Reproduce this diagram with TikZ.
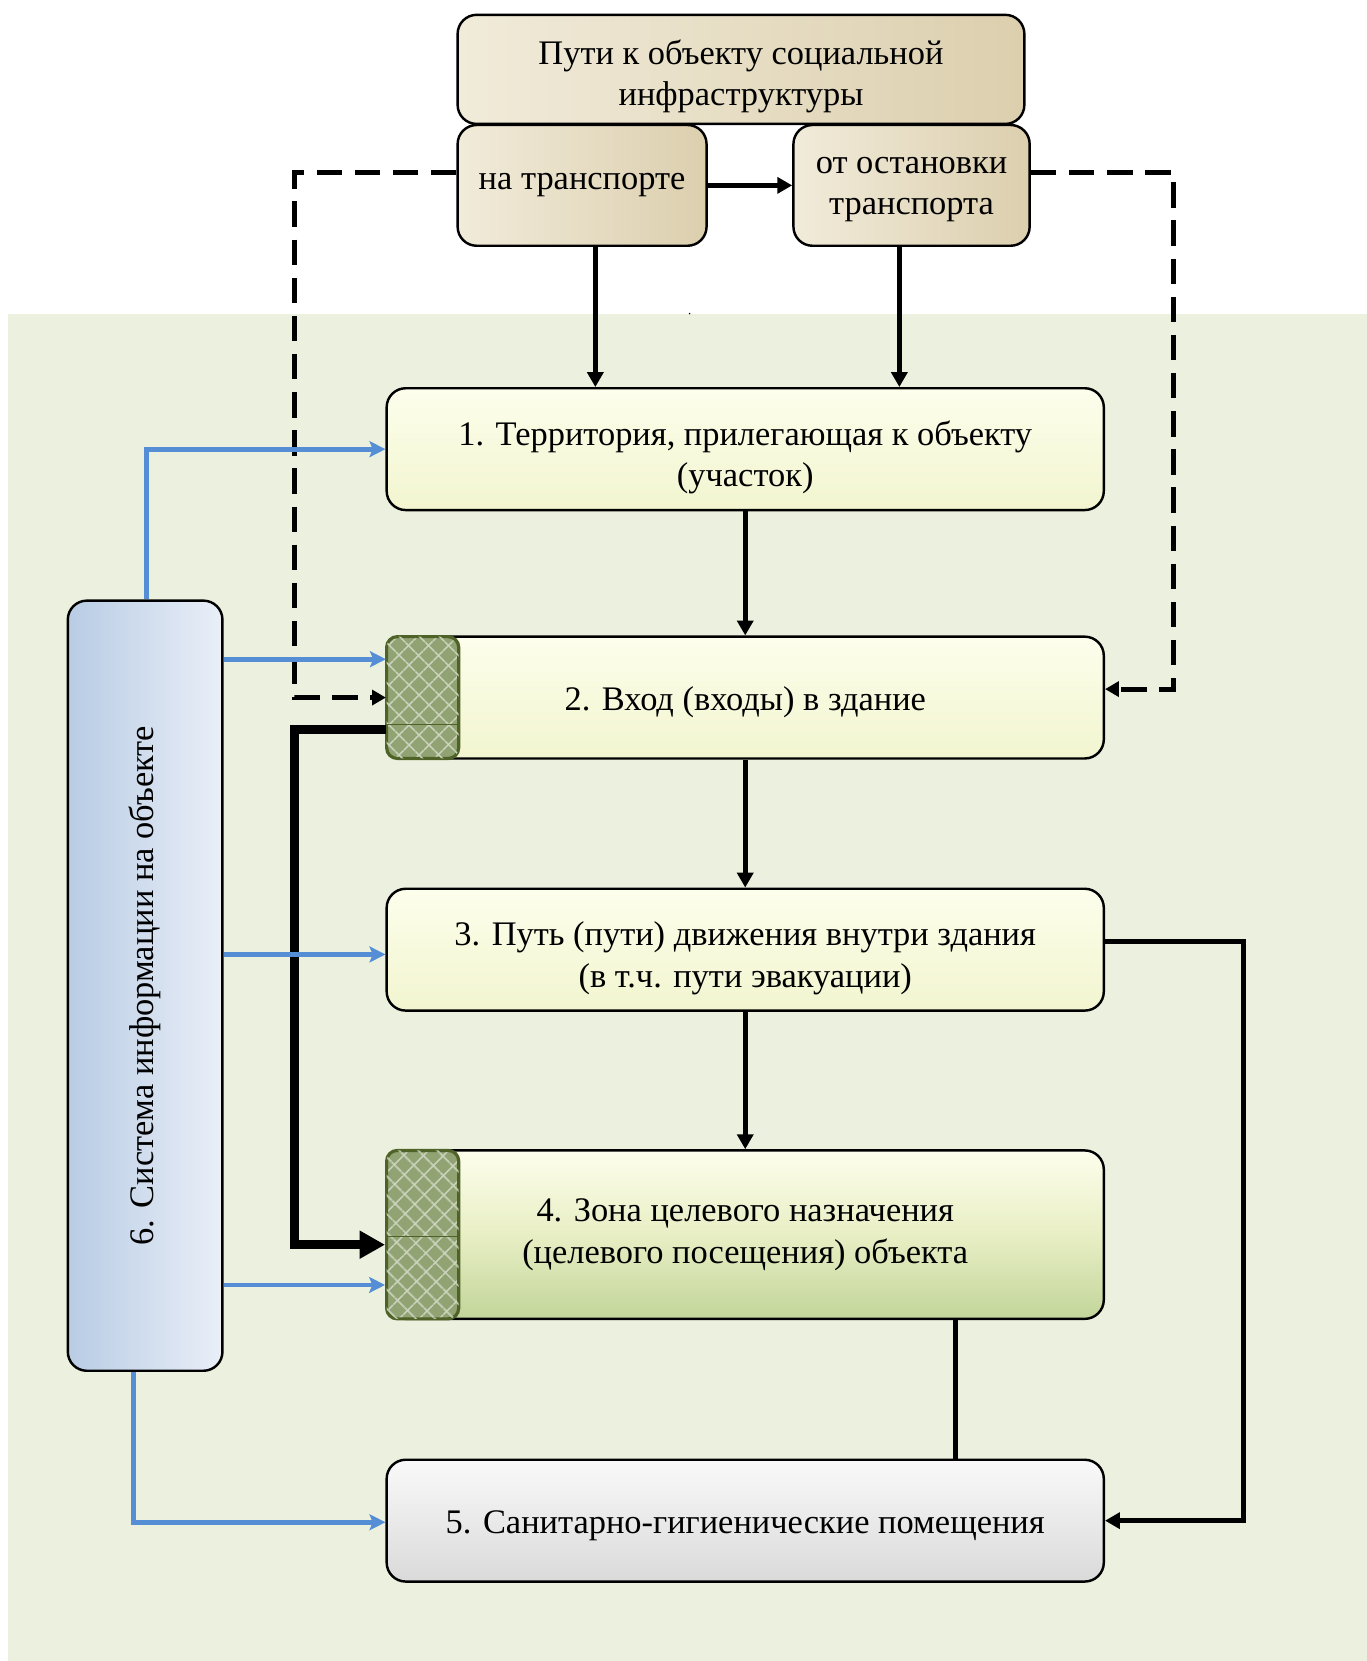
\documentclass[tikz,border=0pt]{standalone}
\usepackage{fontspec}
\setmainfont{Liberation Serif}
\usetikzlibrary{arrows.meta,patterns.meta}
\definecolor{panelgreen}{HTML}{EBF1DE}
\definecolor{tanlight}{HTML}{F1EBDA}
\definecolor{tandark}{HTML}{DCCFAE}
\definecolor{creamtop}{HTML}{FDFEEC}
\definecolor{creambot}{HTML}{F2F5CF}
\definecolor{zonebot}{HTML}{C2D59A}
\definecolor{greytop}{HTML}{F9F9F9}
\definecolor{greybot}{HTML}{DADADA}
\definecolor{bluedark}{HTML}{B8CCE4}
\definecolor{bluelight}{HTML}{EAEFF8}
\definecolor{olivefill}{HTML}{91A372}
\definecolor{olivedraw}{HTML}{4F6228}
\definecolor{hatchline}{HTML}{CAD3BD}
\definecolor{infoblue}{HTML}{558ED5}

\begin{document}
\begin{tikzpicture}[x=1pt, y=-1pt, font=\fontsize{32.5}{39}\selectfont,
    box/.style={draw=black, line width=2.3pt, rounded corners=18pt,
      align=center, inner sep=0pt},
    % the strut pushes the text a bit below the middle
    textbox/.style={box, execute at begin node={\rule{0pt}{#1}}},
    textbox/.default=0pt,
    tanbox/.style={textbox=#1, left color=tanlight, right color=tandark},
    tanbox/.default=0pt,
    mainbox/.style={textbox=#1, top color=creamtop, bottom color=creambot,
      minimum width=677pt, minimum height=115pt},
    mainbox/.default=31pt,
    hatchbox/.style={draw=olivedraw, line width=3pt, rounded corners=10pt,
      minimum width=68pt, inner sep=0pt, preaction={fill=olivefill},
      pattern={Lines[angle=45, distance=13pt, line width=1.4pt]},
      pattern color=hatchline,
      postaction={pattern={Lines[angle=-45, distance=13pt, line width=1.4pt]},
        pattern color=hatchline}},
    arr/.style={line width=4.3pt, -{Triangle[length=14pt, width=15pt]}},
    dasharr/.style={line width=4.8pt, dash pattern=on 24pt off 12pt,
      -{Triangle[length=13pt, width=14pt]}},
    thickarr/.style={line width=8pt, -{Triangle[length=24pt, width=25pt]}},
    bluearr/.style={draw=infoblue, line width=4.6pt,
      -{Stealth[length=15pt, width=15pt, inset=3pt]}}]
  \useasboundingbox (0,0) rectangle (1290,1568);
  % green panel
  \fill[panelgreen] (8,296) rectangle (1290,1568);
  \fill (651,296) circle (0.8pt);

  % paths to the object
  \node[tanbox=75pt, minimum width=535pt, minimum height=103pt] (top) at (699.5,65.5)
    {Пути к объекту социальной\\инфраструктуры};
  \node[tanbox, minimum width=235pt, minimum height=114pt] (transp) at (549.5,175)
    {на транспорте};
  \node[tanbox=62pt, minimum width=223pt, minimum height=114pt] (stop) at (860.5,175)
    {от остановки\\транспорта};

  % zones of the object
  \node[mainbox=78pt] (terr) at (703.5,424)
    {1. Территория, прилегающая к объекту\\(участок)};
  \node[mainbox] (entry) at (703.5,658.5) {2. Вход (входы) в здание};
  \node[mainbox=78pt] (path) at (703.5,896.5)
    {3. Путь (пути) движения внутри здания\\(в т.ч. пути эвакуации)};
  \node[mainbox=0pt, minimum height=159pt, top color=creamtop, bottom color=zonebot,
    middle color=creambot!80!zonebot] (zone) at (703.5,1165.5)
    {4. Зона целевого назначения\\(целевого посещения) объекта};
  \node[mainbox, top color=greytop, bottom color=greybot] (sanit) at (703.5,1435.5)
    {5. Санитарно-гигиенические помещения};
  \node[box, minimum width=146pt, minimum height=727pt,
    left color=bluedark, right color=bluelight] (info) at (137,930.5) {};
  \node[rotate=90] (infolabel) at (info) {6. Система информации на объекте};

  % hatched doors
  \node[hatchbox, minimum height=115pt] (entryhatch) at (399,658.5) {};
  \node[hatchbox, minimum height=159pt] (zonehatch) at (399,1165.5) {};
  \draw[olivedraw, line width=0.8pt] ([yshift=-25pt]entryhatch.west)
    -- ([yshift=-25pt]entryhatch.east);
  \draw[olivedraw, line width=0.8pt] ([yshift=-2pt]zonehatch.west)
    -- ([yshift=-2pt]zonehatch.east);

  % helper coordinates
  \coordinate (lx) at (278,0);
  \coordinate (rx) at (1108,0);
  \coordinate (ex) at (1174,0);
  \coordinate (entryin) at ([yshift=8pt]entry.east);
  \coordinate (zonein) at ([yshift=-9.5pt]zonehatch.west);

  % black connectors
  \draw[arr] (transp.east) -- (stop.west);
  \draw[arr] ([xshift=12.5pt]transp.south) -- ([xshift=12.5pt]transp.south |- terr.north);
  \draw[arr] ([xshift=-11.5pt]stop.south) -- ([xshift=-11.5pt]stop.south |- terr.north);
  \draw[arr] (terr.south) -- (entry.north);
  \draw[arr] (entry.south) -- (path.north);
  \draw[arr] (path.south) -- (zone.north);
  \draw[arr] ([yshift=7.5pt]path.east) -| (ex |- sanit.east) -- (sanit.east);
  \draw[line width=4.3pt] ([xshift=198.5pt]zone.south)
    -- ([xshift=198.5pt]zone.south |- sanit.north);
  \draw[dasharr] ([yshift=12pt]transp.west) -| (lx |- entryhatch.west)
    -- (entryhatch.west);
  \draw[dasharr] ([yshift=12pt]stop.east) -| (rx |- entryin) -- (entryin);
  \draw[thickarr] ([yshift=-30pt]entryhatch.west) -| (lx |- zonein) -- (zonein);

  % information arrows
  \draw[bluearr] ([xshift=1pt]info.north) |- (terr.west);
  \draw[bluearr] (info.east |- entryhatch.north west) ++(0,22) coordinate (b2)
    -- (b2 -| entryhatch.west);
  \draw[bluearr] ([yshift=-4.5pt]info.east |- path.west) -- ([yshift=-4.5pt]path.west);
  \draw[bluearr] ([yshift=-47.5pt]info.east |- zonehatch.west)
    -- ([yshift=-47.5pt]zonehatch.west);
  \draw[bluearr] ([xshift=-11pt]info.south) |- ([yshift=-1.5pt]sanit.west);
\end{tikzpicture}
\end{document}
